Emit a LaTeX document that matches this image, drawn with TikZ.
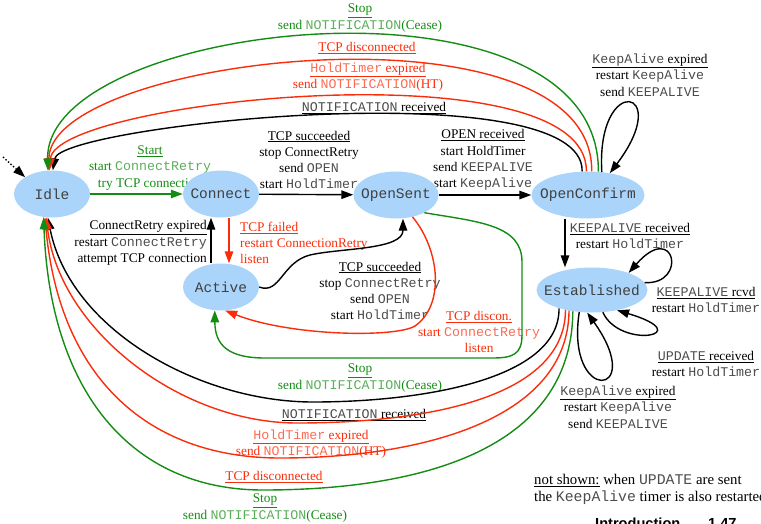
\documentclass[tikz,border=0pt]{standalone}
\usepackage{fontspec}
\setmainfont{Liberation Serif}
\setmonofont{Liberation Mono}
\setsansfont{Liberation Sans}
\usetikzlibrary{shapes.geometric,arrows.meta}

\definecolor{stfill}{RGB}{170,212,250}
\definecolor{grn}{RGB}{20,140,20}
\definecolor{rd}{RGB}{250,45,10}
\newcommand{\tw}[1]{{\ttfamily\color{.!70}#1}}
\newcommand{\und}[1]{\underline{#1}}

\begin{document}
\begin{tikzpicture}[x=1pt,y=-1pt,
    state/.style={ellipse,fill=stfill,inner sep=0pt,minimum width=76pt,minimum height=47pt,
      font=\ttfamily\fontsize{14.5}{17}\selectfont,text=black!75},
    lbl/.style={align=center,inner sep=0pt,font=\fontsize{13.3}{16.3}\selectfont},
    tr/.style={line width=1.4pt,-{Triangle[length=12pt,width=8.5pt]}}]
  \useasboundingbox (0,0) rectangle (761,523);

  % labels first, the states are drawn over them
  \node[lbl,grn] (lstart) at (150,168) {\und{Start}\\start \tw{ConnectRetry}\\try TCP connection};
  \node[lbl] (lsucc) at (309,160) {\und{TCP succeeded}\\stop ConnectRetry\\send \tw{OPEN}\\start \tw{HoldTimer}};
  \node[lbl] (lopen) at (483,160) {\und{OPEN received}\\start HoldTimer\\send \tw{KEEPALIVE}\\start \tw{KeepAlive}};
  \node[lbl,grn] (lstop1) at (360,18) {\und{Stop}\\send \tw{NOTIFICATION}(Cease)};
  \node[lbl,rd] (ldisc1) at (367,48) {\und{TCP disconnected}};
  \node[lbl,rd] (lhold1) at (368,77) {\und{\tw{HoldTimer} expired}\\send \tw{NOTIFICATION}(HT)};
  \node[lbl] (lnotif1) at (374,108) {\und{\tw{NOTIFICATION} received}};
  \node[lbl] (lkaoc) at (650,75) {\und{\tw{KeepAlive} expired}\\restart \tw{KeepAlive}\\send \tw{KEEPALIVE}};
  \node[lbl,rd,anchor=west,align=left] (lfail) at (240,243) {\und{TCP failed}\\restart ConnectionRetry\\listen};
  \node[lbl,anchor=east,align=right] (lretry) at (207,243) {\und{ConnectRetry expired}\\restart \tw{ConnectRetry}\\attempt TCP connection};
  \node[lbl] (lsucc2) at (380,291) {\und{TCP succeeded}\\stop \tw{ConnectRetry}\\send \tw{OPEN}\\start \tw{HoldTimer}};
  \node[lbl,rd] (ldisc2) at (479,332) {\und{TCP discon.}\\start \tw{ConnectRetry}\\listen};
  \node[lbl,grn] (lstop2) at (360,378) {\und{Stop}\\send \tw{NOTIFICATION}(Cease)};
  \node[lbl] (lnotif2) at (354,415) {\und{\tw{NOTIFICATION} received}};
  \node[lbl,rd] (lhold2) at (311,444) {\und{\tw{HoldTimer} expired}\\send \tw{NOTIFICATION}(HT)};
  \node[lbl,rd] (ldisc3) at (274,477) {\und{TCP disconnected}};
  \node[lbl,grn] (lstop3) at (265,508) {\und{Stop}\\send \tw{NOTIFICATION}(Cease)};
  \node[lbl] (lkarc) at (630,236) {\und{\tw{KEEPALIVE} received}\\restart \tw{HoldTimer}};
  \node[lbl] (lkarc2) at (706,300) {\und{\tw{KEEPALIVE} rcvd}\\restart \tw{HoldTimer}};
  \node[lbl] (lupd) at (706,364) {\und{\tw{UPDATE} received}\\restart \tw{HoldTimer}};
  \node[lbl] (lkaes) at (618,407) {\und{\tw{KeepAlive} expired}\\restart \tw{KeepAlive}\\send \tw{KEEPALIVE}};
  \node[lbl,anchor=west,align=left,font=\fontsize{14.8}{17}\selectfont] (lnote) at (534,489)
    {\und{not shown:} when \tw{UPDATE} are sent\\the \tw{KeepAlive} timer is also restarted};
  \node[inner sep=0pt,anchor=base west,font=\sffamily\bfseries\fontsize{14.6}{16}\selectfont] (lintro) at (595,528) {Introduction};
  \node[inner sep=0pt,anchor=base west,font=\sffamily\bfseries\fontsize{14.6}{16}\selectfont] (lpage) at (708,528) {1.47};

  % states
  \node[state] (idle) at (52,194) {\makebox[0pt]{Idle}};
  \node[state] (connect) at (221,194) {\makebox[0pt]{Connect}};
  \node[state,minimum width=85pt] (opensent) at (396,195) {\makebox[0pt]{OpenSent}};
  \node[state,minimum width=113pt] (openconfirm) at (588,195) {\makebox[0pt]{OpenConfirm}};
  \node[state] (active) at (221,287) {\makebox[0pt]{Active}};
  \node[state,minimum width=111pt,minimum height=45pt] (established) at (592,290) {\makebox[0pt]{Established}};

  \coordinate (init) at (3,157);
  \draw[tr,dotted] (init) -- (idle.148);

  % forward
  \draw[tr,grn] (idle) -- (connect);
  \draw[tr] (connect) -- (opensent);
  \draw[tr] (opensent) -- (openconfirm);
  \draw[tr,rd] ([xshift=8pt]connect.south) -- ([xshift=8pt]active.north);
  \draw[tr] ([xshift=-10pt]active.north) -- ([xshift=-10pt]connect.south);
  \draw[tr] (active.east) .. controls (280,295) and (282,262) .. (310,255)
    .. controls (340,248) and (403,250) .. ([xshift=7pt]opensent.south);
  \draw[tr,rd] (opensent.-53) .. controls (440,250) and (445,305) .. (415,326)
    .. controls (395,338) and (290,336) .. (active.-80);
  \draw[tr,grn] (opensent.-32) .. controls (480,222) and (522,225) .. (522,262) -- (522,335)
    .. controls (522,355) and (512,358) .. (492,358) -- (265,358)
    .. controls (228,358) and (215,345) .. (active.-105);
  \draw[tr] ([xshift=-23pt]openconfirm.south) -- ([xshift=-27pt]established.north);

  % loops
  \draw[tr] (openconfirm.59) .. controls (596,72) and (675,87) .. (openconfirm.45);
  \draw[tr] (established.8) .. controls (688,285) and (675,220) .. (established.25);
  \draw[tr] (established.-64) .. controls (620,350) and (700,335) .. (established.-39);
  \draw[tr] (established.-120) .. controls (565,405) and (648,398) .. (established.-102);

  % back to idle
  \draw[tr] (openconfirm.104) .. controls (585,70) and (60,125) .. (idle.88);
  \draw[tr,rd] (openconfirm.94) .. controls (588,45) and (55,100) .. (idle.96);
  \draw[tr,rd] (openconfirm.81) .. controls (593,-5) and (50,55) .. (idle.98);
  \draw[tr,grn] (openconfirm.66) .. controls (600,-40) and (45,20) .. (idle.100);
  \draw[tr] (established.-151) .. controls (560,380) and (420,402) .. (313,402)
    .. controls (200,402) and (70,330) .. (idle.-100);
  \draw[tr,rd] (established.-143) .. controls (565,400) and (420,423) .. (297,423)
    .. controls (180,423) and (60,330) .. (idle.-104);
  \draw[tr,rd] (established.-138) .. controls (568,420) and (420,458) .. (280,458)
    .. controls (150,458) and (60,380) .. (idle.-107);
  \draw[tr,grn] (established.-132) .. controls (572,450) and (420,490) .. (263,490)
    .. controls (130,490) and (50,390) .. (idle.-110);
\end{tikzpicture}
\end{document}
